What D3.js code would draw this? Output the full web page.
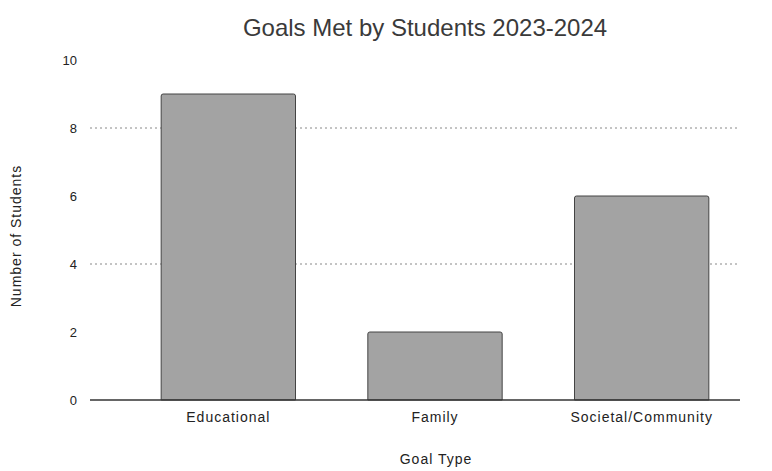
<!DOCTYPE html>
<html><head><meta charset="utf-8">
<script src="https://cdn.jsdelivr.net/npm/d3@7"></script>
<style>body{margin:0;background:#fff}text{font-family:"Liberation Sans",Arial,sans-serif}</style>
</head><body>
<svg id="c" width="772" height="471"></svg>
<script>
const categories = ["Educational", "Family", "Societal/Community"];
const values = [9, 2, 6];
const yTicks = [0, 2, 4, 6, 8, 10];
const gridTicks = [4, 8];

const svg = d3.select("#c");
const y = d3.scaleLinear().domain([0, 10]).range([400, 60]);
const x = d3.scaleBand().domain(categories).range([125, 745]).paddingInner(0.35).paddingOuter(0.175);

svg.append("text").attr("x", 425).attr("y", 36).attr("text-anchor", "middle")
  .attr("font-size", 24).attr("fill", "#3a3a3a").text("Goals Met by Students 2023-2024");

svg.append("g").selectAll("line").data(gridTicks).join("line")
  .attr("x1", 90).attr("x2", 740).attr("y1", d => y(d)).attr("y2", d => y(d))
  .attr("stroke", "#888").attr("stroke-dasharray", "2,3").attr("stroke-width", 1);

const yAxis = svg.append("g").attr("transform", "translate(79,0)")
  .call(d3.axisLeft(y).tickValues(yTicks).tickSize(0).tickPadding(2));
yAxis.select(".domain").remove();
yAxis.selectAll("text").attr("font-size", 13).attr("fill", "#222")
  .attr("font-family", "Liberation Sans, Arial, sans-serif");

const r = 2;
svg.append("g").selectAll("path").data(values).join("path")
  .attr("d", (d, i) => {
    const x0 = x(categories[i]), x1 = x0 + x.bandwidth(), y0 = y(d), yb = y(0);
    return `M${x0},${yb}V${y0 + r}Q${x0},${y0} ${x0 + r},${y0}H${x1 - r}Q${x1},${y0} ${x1},${y0 + r}V${yb}Z`;
  })
  .attr("fill", "#a3a3a3").attr("stroke", "#444").attr("stroke-width", 1);

svg.append("line").attr("x1", 90).attr("x2", 740).attr("y1", y(0)).attr("y2", y(0))
  .attr("stroke", "#333").attr("stroke-width", 1.5);

const xAxis = svg.append("g").attr("transform", `translate(0,${y(0)})`)
  .call(d3.axisBottom(x).tickSize(0).tickPadding(12));
xAxis.select(".domain").remove();
xAxis.selectAll("text").attr("font-size", 14).attr("fill", "#222").attr("letter-spacing", 1)
  .attr("font-family", "Liberation Sans, Arial, sans-serif");

svg.append("text").attr("x", 436).attr("y", 464).attr("text-anchor", "middle")
  .attr("font-size", 14).attr("letter-spacing", 1).attr("fill", "#222").text("Goal Type");

svg.append("text").attr("transform", "translate(21,236) rotate(-90)").attr("text-anchor", "middle")
  .attr("font-size", 14).attr("letter-spacing", 1).attr("fill", "#222").text("Number of Students");
</script>
</body></html>
